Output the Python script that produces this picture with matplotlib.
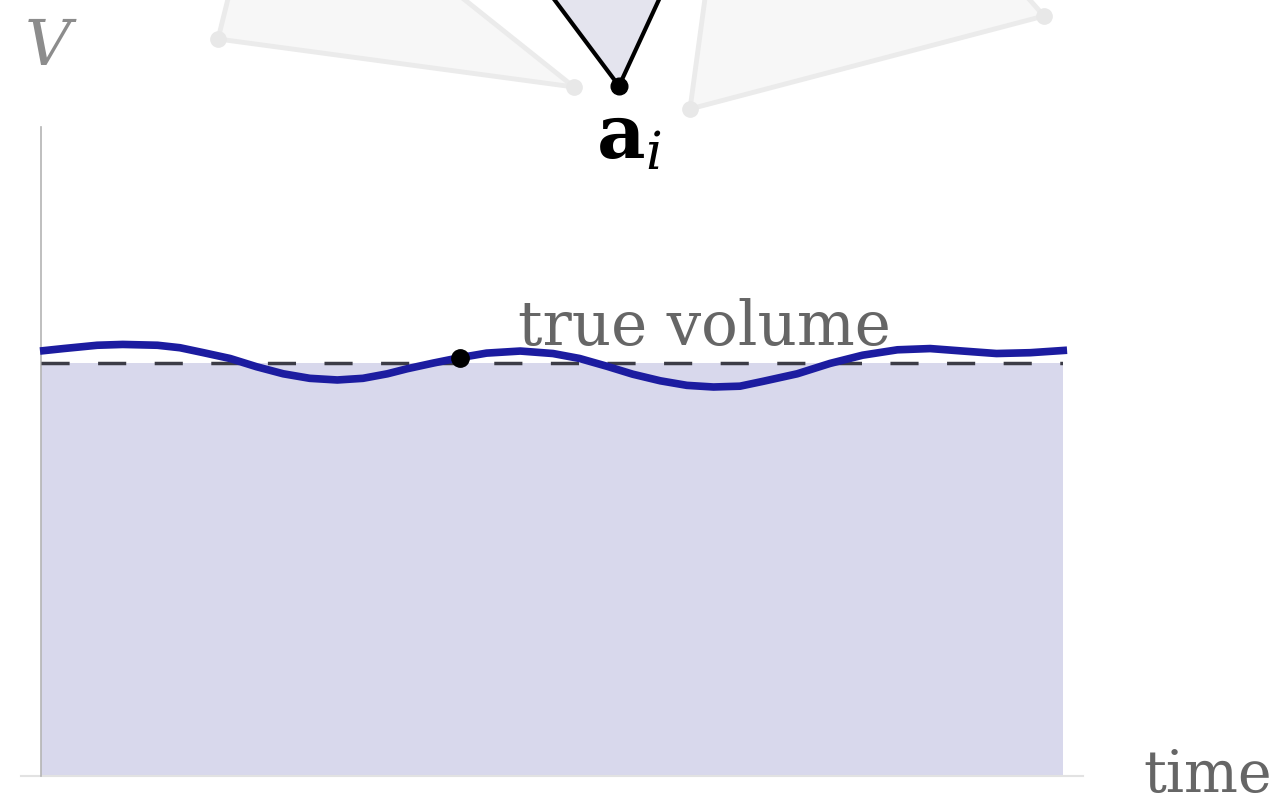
import matplotlib
matplotlib.use("Agg")
import matplotlib.pyplot as plt
from matplotlib.patches import Polygon

# volume over time, read at a handful of instants (true volume = 1)
t = [-0.01, 0.22, 0.55, 0.80, 1.14, 1.36, 1.59, 1.85, 2.11, 2.37, 2.63, 2.90,
     3.15, 3.39, 3.58, 3.84, 4.10, 4.36, 4.69, 5.01, 5.27, 5.54, 5.79, 6.06,
     6.32, 6.58, 6.84, 7.07, 7.40, 7.72, 8.04, 8.38, 8.70, 9.02, 9.35, 9.68, 10.04]
V = [1.028, 1.034, 1.042, 1.044, 1.042, 1.036, 1.024, 1.010, 0.990, 0.973, 0.962, 0.958,
     0.962, 0.973, 0.985, 0.999, 1.012, 1.023, 1.028, 1.022, 1.010, 0.991, 0.972, 0.956,
     0.945, 0.941, 0.943, 0.955, 0.973, 0.998, 1.018, 1.031, 1.034, 1.028, 1.022, 1.024, 1.030]
true_volume = 1.0
t_end = 10.0
current = 16  # index of the sample marked with a dot

# mesh around vertex a_i (screen-like coords, y grows downwards)
tri_left = [(218, 40), (574, 88), (267, -157)]
tri_right = [(690, 110), (1044, 17), (748, -318)]
tri_active = [(619, 87), (509, -60), (687, -60)]
a_i = (619, 87)

fig = plt.figure(figsize=(12.81, 8.04), dpi=100)
serif = "DejaVu Serif"
plt.rcParams["mathtext.fontset"] = "dejavuserif"

# --- plot of V(t) ---
ax = fig.add_axes([0.032, 0.0336, 0.7978, 0.8072])
ax.set_xlim(0, t_end)
ax.set_ylim(0, 1.57)
for s in ["top", "right", "bottom"]:
    ax.spines[s].set_visible(False)
ax.spines["left"].set_color("#b4b4b4")
ax.spines["left"].set_linewidth(1.2)
ax.set_xticks([])
ax.set_yticks([])
ax.patch.set_alpha(0)

ax.fill_between([0, t_end], 0, true_volume, color="#d8d8ec", lw=0, zorder=1)
ax.plot([-0.2, t_end + 0.2], [0, 0], color="#e2e2e2", lw=1.5, clip_on=False, zorder=2)
ax.hlines(true_volume, 0, t_end, colors="#3c3c46", linestyles=(0, (8.1, 8.2)), lw=2.5, zorder=3)
ax.plot(t, V, color="#1c1ca0", lw=5.5, solid_capstyle="butt", solid_joinstyle="round",
        clip_on=False, zorder=4)
ax.plot(t[current], V[current], "o", color="black", ms=12.5, zorder=5)
ax.text(4.67, 1.046, "true volume", family=serif, fontsize=44, color="#666666",
        va="baseline", ha="left")

fig.text(25 / 1281, 1 - 65 / 804, "V", family=serif, style="italic", fontsize=46,
         color="#8c8c8c", va="baseline", ha="left")
fig.text(1143 / 1281, 1 - 792 / 804, "time", family=serif, fontsize=41,
         color="#666666", va="baseline", ha="left")

# --- mesh sketch on top ---
mesh = fig.add_axes([0, 0, 1, 1])
mesh.set_xlim(0, 1281)
mesh.set_ylim(804, 0)
mesh.axis("off")
mesh.patch.set_alpha(0)
for tri in (tri_left, tri_right):
    mesh.add_patch(Polygon(tri, closed=True, fc="#f7f7f7", ec="#ebebeb", lw=3.5,
                           joinstyle="round"))
    mesh.plot(tri[0][0], tri[0][1], "o", color="#e8e8e8", ms=11)
    mesh.plot(tri[1][0], tri[1][1], "o", color="#e8e8e8", ms=11)
mesh.add_patch(Polygon(tri_active, closed=True, fc="#e4e4ee", ec="black", lw=3,
                       joinstyle="round"))
mesh.plot(a_i[0], a_i[1], "o", color="black", ms=12)
mesh.text(596, 158, r"$\mathbf{a}_i$", fontsize=54, color="black",
          va="baseline", ha="left")

fig.savefig("out.png", dpi=100)
